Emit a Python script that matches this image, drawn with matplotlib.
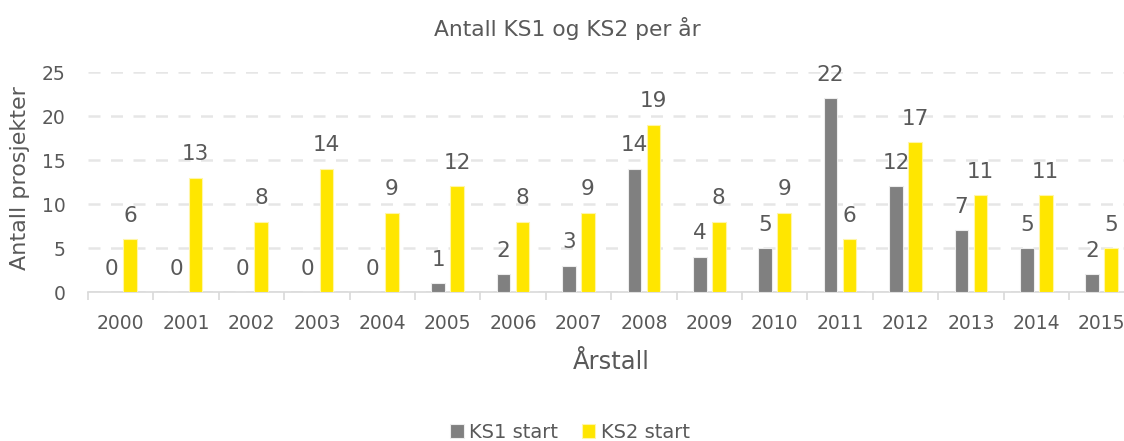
import matplotlib
matplotlib.use("Agg")
import matplotlib.pyplot as plt
import numpy as np

years = ["2000", "2001", "2002", "2003", "2004", "2005", "2006", "2007",
         "2008", "2009", "2010", "2011", "2012", "2013", "2014", "2015"]
ks1 = [0, 0, 0, 0, 0, 1, 2, 3, 14, 4, 5, 22, 12, 7, 5, 2]
ks2 = [6, 13, 8, 14, 9, 12, 8, 9, 19, 8, 9, 6, 17, 11, 11, 5]

TXT = "#595959"
GRID = "#E6E6E6"
plt.rcParams['font.family'] = ['DejaVu Sans']

W, H = 1124, 441
fig = plt.figure(figsize=(W / 100, H / 100), dpi=100)
left, right = 88 / W, 1134.4 / W
bottom, top = 1 - 292 / H, 1 - 72 / H
ax = fig.add_axes([left, bottom, right - left, top - bottom])

x = np.arange(len(years))
bw = 0.21
off = 0.145
b1 = ax.bar(x - off, ks1, bw, color="#808080", edgecolor="#EDEDED", linewidth=0.8, zorder=3)
b2 = ax.bar(x + off, ks2, bw, color="#FFE600", edgecolor="#FFF6A8", linewidth=0.8, zorder=3)

for xi, v in zip(x, ks1):
    ax.annotate(str(v), (xi - off, v), xytext=(0, 12.5), textcoords="offset points",
                ha="center", va="baseline", fontsize=15.5, color=TXT)
for xi, v in zip(x, ks2):
    ax.annotate(str(v), (xi + off, v), xytext=(0, 12.5), textcoords="offset points",
                ha="center", va="baseline", fontsize=15.5, color=TXT)

ax.set_xlim(-0.5, len(years) - 0.5)
ax.set_ylim(0, 25)
ax.set_yticks([0, 5, 10, 15, 20, 25])
ax.yaxis.grid(True, color=GRID, linewidth=1.8, linestyle=(0, (4.8, 4.2)), zorder=0)
for s in ["top", "right", "left"]:
    ax.spines[s].set_visible(False)
ax.spines["bottom"].set_color("#D9D9D9")
ax.spines["bottom"].set_linewidth(1.2)

ax.set_xticks(x)
ax.set_xticklabels(years)
ax.set_xticks(np.arange(-0.5, len(years), 1.0), minor=True)
ax.tick_params(axis="x", which="major", length=0, pad=16, labelsize=13.5, labelcolor=TXT)
ax.tick_params(axis="x", which="minor", length=6, width=1.2, color="#D9D9D9")
ax.tick_params(axis="y", length=0, pad=16, labelsize=13.5, labelcolor=TXT)

fig.text(567 / W, 1 - 28 / H, "Antall KS1 og KS2 per år", ha="center", va="center",
         fontsize=15.7, color=TXT)
fig.text(20 / W, 1 - 178 / H, "Antall prosjekter", rotation=90, ha="center", va="center",
         fontsize=16, color=TXT)
fig.text(611 / W, 1 - 362 / H, "Årstall", ha="center", va="center", fontsize=17.5, color=TXT)

leg = fig.legend([b1, b2], ["KS1 start", "KS2 start"], loc="center",
                 bbox_to_anchor=(570 / W, 1 - 432 / H), ncol=2, frameon=False,
                 fontsize=14, handlelength=0.7, handleheight=0.7, handletextpad=0.3,
                 columnspacing=1.2, labelcolor=TXT)

fig.savefig("out.png", dpi=100)
